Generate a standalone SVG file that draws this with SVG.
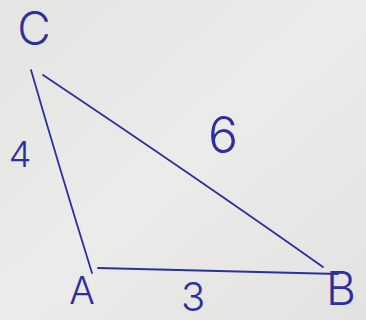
<svg xmlns="http://www.w3.org/2000/svg" width="366" height="320" viewBox="0 0 366 320">
<defs>
<linearGradient id="paper" x1="0" y1="0" x2="1" y2="1">
<stop offset="0" stop-color="#e4e4e2"/>
<stop offset="0.5" stop-color="#ebebe9"/>
<stop offset="1" stop-color="#e2e2e0"/>
</linearGradient>
<style>
.edge{stroke:#2c2f9e;stroke-width:1.8;fill:none;stroke-linecap:round}
.lbl{fill:#2c2f9e;font-family:Inter,"Liberation Sans",sans-serif;font-weight:300;text-anchor:middle}
</style>
</defs>
<rect width="366" height="320" fill="url(#paper)"/>
<g id="connectors">
<path class="edge" d="M31 70 Q60 170 92 273"/>
<path class="edge" d="M43 75 Q200 180 323 267"/>
<path class="edge" d="M98 268 L338 274"/>
<text class="lbl" x="20" y="167" font-size="36">4</text>
<text class="lbl" x="223" y="153" font-size="50">6</text>
<text class="lbl" x="193" y="311" font-size="40">3</text>
</g>
<g id="node-C"><text class="lbl" x="34" y="45" font-size="46">C</text></g>
<g id="node-A"><text class="lbl" x="82" y="304" font-size="38">A</text></g>
<g id="node-B"><text class="lbl" x="341" y="305" font-size="46">B</text></g>
</svg>
